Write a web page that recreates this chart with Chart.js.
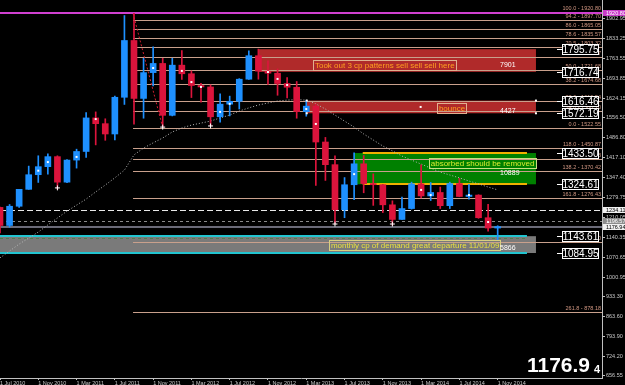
<!DOCTYPE html>
<html><head><meta charset="utf-8">
<script src="https://cdn.jsdelivr.net/npm/chart.js@4.4.1/dist/chart.umd.min.js"></script>
<style>html,body{margin:0;padding:0;background:#000;overflow:hidden}#wrap{width:625px;height:385px}</style>
</head><body><div id="wrap"><canvas id="c" width="625" height="385"></canvas></div>
<script>
// ---- data (gold, monthly) ----
const months = ['Jul 2010','Aug 2010','Sep 2010','Oct 2010','Nov 2010','Dec 2010','Jan 2011','Feb 2011','Mar 2011','Apr 2011','May 2011','Jun 2011','Jul 2011','Aug 2011','Sep 2011','Oct 2011','Nov 2011','Dec 2011','Jan 2012','Feb 2012','Mar 2012','Apr 2012','May 2012','Jun 2012','Jul 2012','Aug 2012','Sep 2012','Oct 2012','Nov 2012','Dec 2012','Jan 2013','Feb 2013','Mar 2013','Apr 2013','May 2013','Jun 2013','Jul 2013','Aug 2013','Sep 2013','Oct 2013','Nov 2013','Dec 2013','Jan 2014','Feb 2014','Mar 2014','Apr 2014','May 2014','Jun 2014','Jul 2014','Aug 2014','Sep 2014','Oct 2014','Nov 2014'];
const opens  = [1244,1181,1248,1307,1358,1386,1421,1332,1409,1439,1556,1536,1500,1628,1826,1624,1714,1746,1565,1740,1710,1669,1664,1560,1604,1614,1691,1773,1719,1712,1676,1663,1578,1597,1472,1393,1236,1323,1396,1327,1323,1253,1202,1240,1326,1284,1296,1250,1327,1282,1287,1208,1172];
const highs  = [1245,1254,1307,1388,1424,1431,1424,1411,1447,1575,1577,1553,1632,1913,1921,1764,1804,1764,1764,1791,1720,1677,1671,1640,1632,1693,1790,1796,1755,1727,1697,1683,1617,1604,1488,1424,1348,1434,1425,1361,1324,1267,1280,1332,1392,1331,1315,1332,1345,1324,1288,1255,1180];
const lows   = [1155,1175,1244,1307,1331,1360,1308,1330,1381,1418,1462,1478,1479,1603,1534,1555,1668,1523,1563,1690,1627,1611,1527,1541,1563,1587,1690,1691,1673,1635,1626,1555,1562,1321,1338,1186,1208,1271,1295,1251,1226,1182,1202,1238,1277,1268,1240,1240,1281,1273,1206,1161,1131];
const closes = [1181,1248,1307,1358,1386,1421,1332,1409,1439,1556,1536,1500,1628,1826,1624,1714,1746,1565,1740,1710,1669,1664,1560,1604,1614,1691,1773,1719,1712,1676,1663,1578,1597,1472,1393,1236,1323,1396,1327,1323,1253,1202,1240,1326,1284,1296,1250,1327,1282,1287,1208,1172,1177];
const maValues = [1068,1092,1116,1137,1158,1183,1207,1231,1252,1273,1298,1322,1347,1374,1427,1451,1469,1486,1507,1521,1531,1538,1545,1556,1566,1580,1591,1601,1608,1615,1618,1620,1618,1605,1587,1566,1545,1524,1500,1479,1458,1441,1423,1409,1395,1381,1367,1357,1347,1336,1326,1315,1305];
const markIdx   = [4,5,8,10,16,19,20,21,23,24,28,29,30,32,33,37,44,45,49,51];
const markPrice = [1372,1402,1420,1552,1730,1720,1681,1664,1577,1605,1716,1692,1671,1587,1535,1360,1305,1287,1287,1193];
const crossIdx   = [6,17,22,35,41];
const crossPrice = [1312,1524,1528,1186,1186];
const xTickLabels = ['1 Jul 2010','1 Nov 2010','1 Mar 2011','1 Jul 2011','1 Nov 2011','1 Mar 2012','1 Jul 2012','1 Nov 2012','1 Mar 2013','1 Jul 2013','1 Nov 2013','1 Mar 2014','1 Jul 2014','1 Nov 2014'];
const yTickValues = [1902.95,1833.25,1763.55,1693.85,1624.15,1556.50,1486.80,1417.10,1347.40,1279.75,1210.05,1140.35,1070.65,1000.95,933.30,863.60,793.90,724.20,656.55];
const fibNames  = ['100.0','94.2','86.0','78.6','70.5','61.8','50.0','38.2','23.6','14.6','0.0','118.0','127.2','138.2','161.8','200.0','261.8'];
const fibPrices = [1920.80,1897.70,1865.05,1835.57,1803.32,1768.67,1721.68,1674.68,1616.54,1580.70,1522.55,1450.87,1414.23,1370.42,1276.43,1124.30,878.18];
const zoneTops    = [1795.75,1616.46,1433.50,1143.61];
const zoneBottoms = [1716.74,1572.19,1324.61,1084.95];
const zoneStart   = [26.95,32.05,37.0,-1];
const zoneEnd     = [56.0,56.0,56.0,56.0];
const zoneTexts   = ['Took out 3 cp patterns sell sell sell here','bounce','absorbed should be removed','monthly cp of demand great departure 11/01/09'];
const zoneTextIdx = [32.7,45.65,44.8,34.37];
const zoneTextPrice = [1740.5,1592.3,1398.8,1112.9];
const zoneNums    = ['7901','4427','10889','5866'];
const zoneNumPrice = [1742,1580,1364,1101];
const hLinePrices = [1234.11,1196.57,1176.94,1137.6];
const currentPrice = '1176.94';

const UP='#1e90ff', DN='#dc143c';
const cols = opens.map((o,i)=> closes[i]>=o ? UP : DN);

const overlay = {
  id:'overlay',
  beforeDatasetsDraw(chart){
    const {ctx, chartArea:a, scales:{x,y}} = chart;
    const X=v=>x.getPixelForValue(v), Y=v=>y.getPixelForValue(v);
    ctx.save();
    ctx.beginPath(); ctx.rect(a.left,a.top,a.width,a.height); ctx.clip();
    const fills=['#b02a2a','#b02a2a','#008000','#7a7a7a'];
    zoneTops.forEach((t,k)=>{
      const x0=X(zoneStart[k]), x1=X(zoneEnd[k]), y0=Y(t), y1=Y(zoneBottoms[k]);
      ctx.fillStyle=fills[k]; ctx.fillRect(x0,y0,x1-x0,y1-y0);
    });
    // fib lines
    ctx.strokeStyle='#c9a08c'; ctx.lineWidth=1;
    fibPrices.forEach(p=>{const yy=Math.round(Y(p))+0.5; ctx.beginPath(); ctx.moveTo(X(13.9),yy); ctx.lineTo(a.right,yy); ctx.stroke();});
    // fib anchor diagonal
    ctx.strokeStyle='#d02030'; ctx.setLineDash([2,2]);
    ctx.beginPath(); ctx.moveTo(X(13.9),Y(fibPrices[0])); ctx.lineTo(X(17),Y(fibPrices[10])); ctx.stroke();
    // horizontal lines
    ctx.setLineDash([6,3]); ctx.strokeStyle='#e8e8e8';
    let yy=Math.round(Y(hLinePrices[0]))+0.5; ctx.beginPath(); ctx.moveTo(a.left,yy); ctx.lineTo(a.right,yy); ctx.stroke();
    ctx.setLineDash([3,3]); ctx.strokeStyle='#8a8a8a';
    yy=Math.round(Y(hLinePrices[1]))+0.5; ctx.beginPath(); ctx.moveTo(a.left,yy); ctx.lineTo(a.right,yy); ctx.stroke();
    ctx.setLineDash([]); ctx.strokeStyle='#6a6a78'; ctx.lineWidth=2;
    yy=Math.round(Y(hLinePrices[2])); ctx.beginPath(); ctx.moveTo(a.left,yy); ctx.lineTo(a.right,yy); ctx.stroke();
    ctx.setLineDash([3,3]); ctx.strokeStyle='#4e7e4e'; ctx.lineWidth=1;
    yy=Math.round(Y(hLinePrices[3]))+0.5; ctx.beginPath(); ctx.moveTo(a.left,yy); ctx.lineTo(X(55.06),yy); ctx.stroke();
    ctx.setLineDash([]);
    // green zone borders (orange) and grey zone borders (cyan)
    ctx.lineWidth=2; ctx.strokeStyle='#f0b000';
    [zoneTops[2],zoneBottoms[2]].forEach(p=>{const q=Math.round(Y(p)); ctx.beginPath(); ctx.moveTo(X(37.9),q); ctx.lineTo(X(55.06),q); ctx.stroke();});
    ctx.strokeStyle='#22c4d0';
    [zoneTops[3],zoneBottoms[3]].forEach(p=>{const q=Math.round(Y(p)); ctx.beginPath(); ctx.moveTo(a.left,q); ctx.lineTo(X(55.06),q); ctx.stroke();});
    // magenta line at 100%
    ctx.strokeStyle='#d040d0'; ctx.lineWidth=2;
    yy=Math.round(Y(fibPrices[0])); ctx.beginPath(); ctx.moveTo(a.left,yy); ctx.lineTo(a.right,yy); ctx.stroke();
    ctx.restore();
  },
  afterDatasetsDraw(chart){
    const {ctx, chartArea:a, scales:{x,y}} = chart;
    const X=v=>x.getPixelForValue(v), Y=v=>y.getPixelForValue(v);
    ctx.save();
    // fib labels
    ctx.font='5.5px "Liberation Sans"'; ctx.textAlign='right'; ctx.textBaseline='bottom'; ctx.fillStyle='#cf9580';
    fibNames.forEach((n,i)=>{ if(i===0) return; ctx.fillText(n+' - '+fibPrices[i].toFixed(2), a.right-1, Math.round(Y(fibPrices[i]))-1); });
    ctx.fillText(fibNames[0]+' - '+fibPrices[0].toFixed(2), a.right-1, Math.round(Y(fibPrices[0]))-2);
    // zone text boxes
    const tc=['#ffa020','#ffa020','#d8ec30','#e8e040'];
    const bc=['#e0b090','#e0b090','#c8e080','#d8d080'];
    ctx.font='8px "Liberation Sans"'; ctx.textAlign='left'; ctx.textBaseline='middle';
    zoneTexts.forEach((t,k)=>{
      const xl=X(zoneTextIdx[k]), yc=Math.round(Y(zoneTextPrice[k]));
      const w=ctx.measureText(t).width;
      ctx.strokeStyle=bc[k]; ctx.lineWidth=1; ctx.strokeRect(Math.round(xl)+0.5, yc-5+0.5, Math.round(w)+3, 10);
      ctx.fillStyle=tc[k]; ctx.fillText(t, xl+2, yc+0.5);
    });
    ctx.font='7px "Liberation Sans"'; ctx.fillStyle='#ffffff';
    zoneNums.forEach((n,k)=>ctx.fillText(n, X(52.25), Math.round(Y(zoneNumPrice[k]))));
    // corner dots of bounce zone
    ctx.fillStyle='#ffffff';
    [[32.05,zoneTops[1]],[32.05,zoneBottoms[1]],[56,zoneTops[1]],[56,zoneBottoms[1]],[43.95,(zoneTops[1]+zoneBottoms[1])/2]].forEach(p=>ctx.fillRect(X(p[0])-1,Y(p[1])-1,2,2));
    // right price boxes
    const boxPrices=[...zoneTops, ...zoneBottoms];
    ctx.font='10px "Liberation Sans"'; ctx.textAlign='center';
    boxPrices.forEach(p=>{
      const yc=Math.round(Y(p));
      ctx.strokeStyle='#ffffff'; ctx.lineWidth=1;
      ctx.beginPath(); ctx.moveTo(557,yc+0.5); ctx.lineTo(562,yc+0.5); ctx.stroke();
      ctx.fillStyle='#000'; ctx.fillRect(562,yc-5,37,10);
      ctx.strokeRect(562.5,yc-4.5,36,10);
      ctx.fillStyle='#ffffff'; ctx.fillText(p.toFixed(2), 580.5, yc+1);
    });
    // big current price
    ctx.textAlign='right'; ctx.textBaseline='alphabetic';
    ctx.font='bold 21px "Liberation Sans"'; ctx.fillText(currentPrice.slice(0,-1), 590, 372);
    ctx.textAlign='left'; ctx.font='bold 11px "Liberation Sans"'; ctx.fillText(currentPrice.slice(-1), 594, 373);
    ctx.restore();
  },
  afterDraw(chart){
    const {ctx, chartArea:a, scales:{y}} = chart;
    const Y=v=>y.getPixelForValue(v);
    ctx.save();
    ctx.font='5.5px "Liberation Sans"'; ctx.textBaseline='middle'; ctx.textAlign='left';
    const hl=[[fibPrices[0],'#c83cc8','#ffffff'],[hLinePrices[0],'#f0f0f0','#000000'],[hLinePrices[1],'#8c8c8c','#ffffff'],[1176.94,'#f0f0f0','#000000']];
    hl.forEach(h=>{const yc=Math.round(Y(h[0])); ctx.fillStyle=h[1]; ctx.fillRect(a.right+1,yc-3,22,6); ctx.fillStyle=h[2]; ctx.fillText(h[0].toFixed(2), a.right+4, yc+0.5);});
    ctx.restore();
  }
};

const chart = new Chart(document.getElementById('c'), {
  type:'bar',
  data:{ datasets:[
    {type:'scatter', data:crossIdx.map((v,i)=>({x:v,y:crossPrice[i]})), pointStyle:'cross', radius:2.5, borderColor:'#ffffff', borderWidth:1, order:1},
    {type:'scatter', data:markIdx.map((v,i)=>({x:v,y:markPrice[i]})), pointStyle:'rect', radius:1.4, backgroundColor:'#ffffff', borderColor:'#ffffff', borderWidth:0, order:2},
    {type:'bar', data:months.map((m,i)=>({x:i,y:[opens[i],closes[i]]})), backgroundColor:cols, barThickness:6, minBarLength:1, grouped:false, order:3},
    {type:'bar', data:months.map((m,i)=>({x:i,y:[lows[i],highs[i]]})), backgroundColor:cols, barThickness:1, grouped:false, order:4},
    {type:'line', data:months.map((m,i)=>({x:i,y:maValues[i]})), borderColor:'#b8b8b8', borderWidth:1, borderDash:[1,2], pointRadius:0, tension:0, order:5}
  ]},
  options:{
    responsive:false, animation:false, devicePixelRatio:1,
    layout:{padding:0, autoPadding:false},
    plugins:{legend:{display:false}, tooltip:{enabled:false}},
    scales:{
      x:{type:'linear', min:0, max:62.9, offset:false, position:'bottom',
        grid:{display:true, drawOnChartArea:false, tickLength:2, color:'#c0c0c0', offset:false},
        border:{color:'#c0c0c0'},
        afterBuildTicks:s=>{s.ticks=xTickLabels.map((t,i)=>({value:i*4}));},
        afterFit:s=>{s.height=7; s.paddingLeft=0; s.paddingRight=0;},
        ticks:{autoSkip:false, maxRotation:0, align:'start', padding:0, color:'#c8c8c8', font:{family:'Liberation Sans', size:5.5}, callback:(v)=>xTickLabels[Math.round(v/4)]}
      },
      y:{type:'linear', position:'right', min:649.1, max:1967.2,
        grid:{display:true, drawOnChartArea:false, tickLength:3, color:'#c0c0c0'},
        border:{color:'#c0c0c0'},
        afterBuildTicks:s=>{s.ticks=yTickValues.map(v=>({value:v}));},
        afterFit:s=>{s.width=23; s.paddingTop=0; s.paddingBottom=0;},
        ticks:{padding:1, color:'#c8c8c8', font:{family:'Liberation Sans', size:5.5}, callback:v=>Number(v).toFixed(2)}
      }
    }
  },
  plugins:[overlay]
});
</script></body></html>
